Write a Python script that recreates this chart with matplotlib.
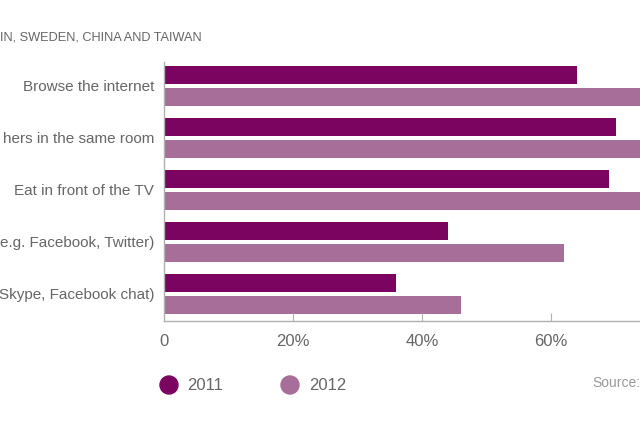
import matplotlib
matplotlib.use("Agg")
import matplotlib.pyplot as plt
import numpy as np

categories = ["Browse the internet", "hers in the same room", "Eat in front of the TV",
              "e.g. Facebook, Twitter)", "Skype, Facebook chat)"]
v2011 = [64, 70, 69, 44, 36]
v2012 = [80, 82, 81, 62, 46]
xticks = [0, 20, 40, 60]
xticklabels = ["0", "20%", "40%", "60%"]
years = ["2011", "2012"]
title = "IN, SWEDEN, CHINA AND TAIWAN"
source = "Source:"

c2011 = "#7b0461"
c2012 = "#a76e9a"
gray = "#666666"

plt.rcParams['font.family'] = ['Liberation Sans', 'DejaVu Sans']

W, H = 640, 426
fig = plt.figure(figsize=(W/100, H/100), dpi=100)
px_per = 6.45
xmax = 80
ax = fig.add_axes([164/W, (H-321)/H, xmax*px_per/W, 259/H])

y = np.arange(len(categories))
off = 11/52
bh = 18/52
ax.barh(y - off, v2011, height=bh, color=c2011)
ax.barh(y + off, v2012, height=bh, color=c2012)
ax.set_xlim(0, xmax)
ax.set_ylim(len(categories) - 1 + 0.52, -0.46)

for s in ["top", "right"]:
    ax.spines[s].set_visible(False)
for s in ["left", "bottom"]:
    ax.spines[s].set_color("#b0b0b0")
    ax.spines[s].set_linewidth(1)

ax.set_yticks(y)
ax.set_yticklabels(categories, fontsize=11, color=gray)
ax.tick_params(axis='y', length=0, pad=7)
ax.set_xticks(xticks)
ax.set_xticklabels(xticklabels, fontsize=12, color=gray)
ax.tick_params(axis='x', direction='in', length=6, color="#b0b0b0", pad=9)
ax.xaxis.get_major_ticks()[0].tick1line.set_visible(False)

fig.text(0, 1 - 37/H, title, fontsize=9.2, color=gray, va='center', ha='left')

ly = 1 - 385/H
for xc, xt, col, lab in [(169, 187, c2011, years[0]), (290, 309, c2012, years[1])]:
    fig.patches.append(matplotlib.patches.Ellipse((xc/W, ly), 18/W, 18/H,
                       transform=fig.transFigure, color=col))
    fig.text(xt/W, ly, lab, fontsize=12, color=gray, va='center', ha='left')
fig.text(592/W, 1 - 383/H, source, fontsize=10, color="#999999", va='center', ha='left')

fig.savefig("out.png", dpi=100)
